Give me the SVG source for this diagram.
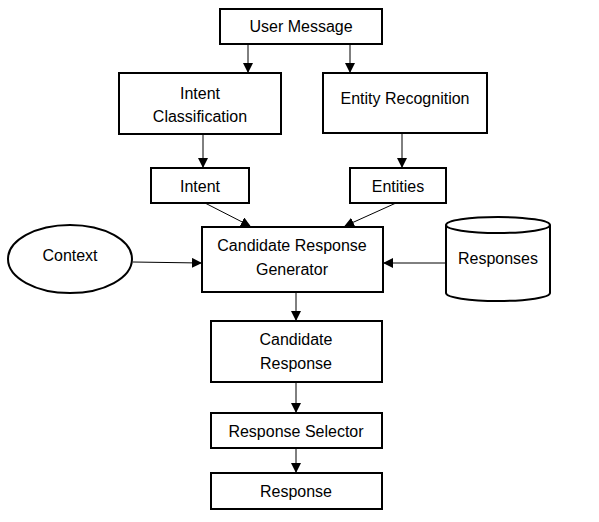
<svg xmlns="http://www.w3.org/2000/svg" width="599" height="522" viewBox="0 0 599 522">
<style>
.box{fill:#fff;stroke:#000;stroke-width:2}
.t{font-family:"Liberation Sans",Arial,sans-serif;font-size:16px;fill:#000;text-anchor:middle}
.c{stroke:#000;stroke-width:1;fill:none;marker-end:url(#ah)}
</style>
<defs>
<marker id="ah" markerWidth="10" markerHeight="10" refX="9" refY="5" orient="auto" markerUnits="userSpaceOnUse">
<path d="M0,0 L10,5 L0,10 Z" fill="#000"/>
</marker>
</defs>
<rect width="599" height="522" fill="#fff"/>
<g id="connectors">
<line class="c" x1="248" y1="44" x2="248" y2="72"/>
<line class="c" x1="350" y1="44" x2="350" y2="72"/>
<line class="c" x1="203" y1="134" x2="203" y2="167"/>
<line class="c" x1="402" y1="133" x2="402" y2="167"/>
<line class="c" x1="205" y1="203" x2="250" y2="226"/>
<line class="c" x1="396" y1="203" x2="345" y2="226"/>
<line class="c" x1="133" y1="262" x2="201" y2="263"/>
<line class="c" x1="445" y1="263" x2="384" y2="263"/>
<line class="c" x1="296" y1="292" x2="296" y2="320"/>
<line class="c" x1="296" y1="382" x2="296" y2="412"/>
<line class="c" x1="296" y1="448" x2="296" y2="472"/>
</g>
<g id="user-message"><rect class="box" x="220" y="9" width="162" height="35"/><text class="t" x="301" y="32">User Message</text></g>
<g id="intent-classification"><rect class="box" x="119" y="73" width="162" height="61"/><text class="t" x="200" y="99">Intent</text><text class="t" x="200" y="122">Classification</text></g>
<g id="entity-recognition"><rect class="box" x="323" y="73" width="164" height="60"/><text class="t" x="405" y="104">Entity Recognition</text></g>
<g id="intent"><rect class="box" x="151" y="168" width="98" height="35"/><text class="t" x="200" y="192">Intent</text></g>
<g id="entities"><rect class="box" x="350" y="168" width="96" height="35"/><text class="t" x="398" y="192">Entities</text></g>
<g id="context"><ellipse cx="70" cy="259" rx="62" ry="34" fill="#fff" stroke="#000" stroke-width="2"/><text class="t" x="70" y="261">Context</text></g>
<g id="candidate-response-generator"><rect class="box" x="202" y="227" width="181" height="65"/><text class="t" x="292" y="251">Candidate Response</text><text class="t" x="292" y="275">Generator</text></g>
<g id="responses">
<path d="M446,225 L446,293 A52,8 0 0 0 550,293 L550,225" fill="#fff" stroke="#000" stroke-width="2"/>
<ellipse cx="498" cy="225" rx="52" ry="8" fill="#fff" stroke="#000" stroke-width="2"/>
<text class="t" x="498" y="264">Responses</text>
</g>
<g id="candidate-response"><rect class="box" x="211" y="321" width="171" height="61"/><text class="t" x="296" y="345">Candidate</text><text class="t" x="296" y="369">Response</text></g>
<g id="response-selector"><rect class="box" x="211" y="413" width="171" height="35"/><text class="t" x="296" y="437">Response Selector</text></g>
<g id="response"><rect class="box" x="211" y="473" width="171" height="36"/><text class="t" x="296" y="497">Response</text></g>
</svg>
